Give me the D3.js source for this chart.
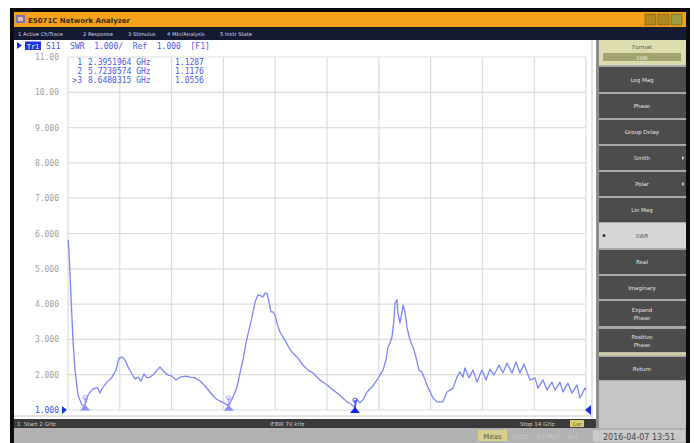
<!DOCTYPE html>
<html>
<head>
<meta charset="utf-8">
<script src="https://cdn.jsdelivr.net/npm/d3@7/dist/d3.min.js"></script>
<style>
  html, body { margin: 0; padding: 0; background: #fff; }
  svg { display: block; }
  text { white-space: pre; }
</style>
</head>
<body>
<svg id="chart" width="695" height="443"></svg>
<script>
// S11 SWR sweep, 2–14 GHz
const freqGHz = [
  2.000, 2.023, 2.069, 2.116, 2.162, 2.232, 2.324, 2.3952, 2.463, 2.556, 2.625, 2.695, 2.741, 2.811, 2.903,
  3.019, 3.112, 3.181, 3.251, 3.320, 3.390, 3.483, 3.552, 3.622, 3.691, 3.761, 3.830, 3.900, 3.992, 4.062,
  4.131, 4.224, 4.316, 4.409, 4.502, 4.594, 4.733, 4.826, 4.942, 5.058, 5.174, 5.289, 5.405, 5.521, 5.614,
  5.7231, 5.822, 5.915, 5.984, 6.054, 6.123, 6.193, 6.262, 6.332, 6.401, 6.471, 6.517, 6.563, 6.610, 6.656,
  6.702, 6.749, 6.795, 6.841, 6.911, 6.980, 7.050, 7.119, 7.212, 7.328, 7.444, 7.559, 7.675, 7.837, 7.999,
  8.139, 8.301, 8.463, 8.556, 8.6480, 8.695, 8.760, 8.840, 8.926, 9.042, 9.158, 9.227, 9.297, 9.366, 9.413,
  9.459, 9.505, 9.552, 9.575, 9.621, 9.644, 9.691, 9.737, 9.760, 9.806, 9.853, 9.922, 9.992, 10.061, 10.131,
  10.200, 10.316, 10.455, 10.548, 10.687, 10.779, 10.918, 11.011, 11.080, 11.150, 11.196, 11.289, 11.382,
  11.474, 11.590, 11.683, 11.775, 11.868, 11.984, 12.077, 12.169, 12.285, 12.378, 12.470, 12.563, 12.702,
  12.818, 12.887, 13.003, 13.096, 13.211, 13.281, 13.397, 13.466, 13.582, 13.675, 13.791, 13.860, 13.976, 14.000
];
const swr = [
  5.82, 5.53, 4.20, 2.98, 2.13, 1.42, 1.14, 1.1287, 1.42, 1.57, 1.62, 1.62, 1.48, 1.65, 1.79,
  1.93, 2.13, 2.47, 2.50, 2.42, 2.22, 2.02, 1.88, 1.93, 1.82, 2.02, 1.91, 1.93, 2.02, 2.13,
  2.22, 2.08, 1.99, 1.96, 1.85, 1.93, 1.96, 1.93, 1.91, 1.82, 1.68, 1.51, 1.34, 1.25, 1.20,
  1.1176, 1.37, 1.65, 2.05, 2.42, 2.90, 3.27, 3.63, 4.06, 4.26, 4.23, 4.20, 4.31, 4.31, 4.06,
  3.78, 3.78, 3.69, 3.46, 3.21, 3.07, 2.93, 2.76, 2.61, 2.47, 2.27, 2.13, 2.05, 1.85, 1.71,
  1.57, 1.42, 1.23, 1.17, 1.0556, 1.30, 1.20, 1.30, 1.51, 1.65, 1.85, 1.99, 2.13, 2.42, 2.78,
  2.90, 3.07, 3.55, 4.03, 4.12, 3.75, 3.46, 3.78, 3.97, 3.78, 3.35, 2.98, 2.78, 2.50, 2.13,
  2.08, 1.71, 1.34, 1.23, 1.23, 1.51, 1.62, 1.93, 2.08, 1.93, 2.19, 1.91, 2.13,
  1.79, 2.13, 1.85, 2.16, 1.99, 2.27, 2.05, 2.33, 2.05, 2.36, 2.05, 2.30, 1.85,
  1.91, 1.62, 1.85, 1.57, 1.79, 1.57, 1.79, 1.51, 1.76, 1.48, 1.71, 1.34, 1.62, 1.57
];

// Marker table
const markerIds = ["1", "2", "3"];
const markerFreq = [2.3951964, 5.7230574, 8.6480315];
const markerSwr = [1.1287, 1.1176, 1.0556];
const activeMarker = 2;

// Axis
const yTickValues = [11, 10, 9, 8, 7, 6, 5, 4, 3, 2, 1];
const yTickLabels = ["11.00", "10.00", "9.000", "8.000", "7.000", "6.000", "5.000", "4.000", "3.000", "2.000", "1.000"];
const startLabel = "1  Start 2 GHz";
const ifbwLabel = "IFBW 70 kHz";
const stopLabel = "Stop 14 GHz";

// Instrument chrome text
const menuItems = ["1 Active Ch/Trace", "2 Response", "3 Stimulus", "4 Mkr/Analysis", "5 Instr State"];
const softkeys = [
  { label: ["Log Mag"] }, { label: ["Phase"] }, { label: ["Group Delay"] },
  { label: ["Smith"], arrow: true }, { label: ["Polar"], arrow: true }, { label: ["Lin Mag"] },
  { label: ["SWR"], selected: true }, { label: ["Real"] }, { label: ["Imaginary"] },
  { label: ["Expand", "Phase"] }, { label: ["Positive", "Phase"] }
];
const softkeyBounds = [[67, 92], [94, 118], [120, 144], [146, 170], [172, 196], [198, 222],
  [223, 248], [250, 274], [276, 299], [301, 326], [329, 352]];

const svg = d3.select("#chart");
const mono = "'DejaVu Sans Mono', 'Liberation Mono', monospace";
const sans = "'DejaVu Sans', 'Liberation Sans', sans-serif";

// Window frame
svg.append("rect").attr("x", 10).attr("y", 8).attr("width", 680).attr("height", 435).attr("fill", "#0b0b0b");
// Title bar
svg.append("rect").attr("x", 14).attr("y", 12).attr("width", 672).attr("height", 15).attr("fill", "#f4a21a");
svg.append("rect").attr("x", 16).attr("y", 15).attr("width", 9).attr("height", 8).attr("fill", "#7a6fb8");
svg.append("rect").attr("x", 18).attr("y", 17).attr("width", 5).attr("height", 4).attr("fill", "#e8c0a0");
svg.append("text").attr("x", 28).attr("y", 22.5).attr("font-family", sans).attr("font-size", 7)
  .attr("font-weight", "bold").attr("fill", "#3a2a10").text("E5071C Network Analyzer");
[645, 658, 671].forEach((bx, i) => {
  svg.append("rect").attr("x", bx).attr("y", 14).attr("width", 11).attr("height", 11)
    .attr("fill", i === 2 ? "#9a9a40" : "#b08a20").attr("stroke", "#6a5a10").attr("stroke-width", 0.6);
});
// Menu bar
svg.append("rect").attr("x", 14).attr("y", 27).attr("width", 672).attr("height", 13).attr("fill", "#151a33");
const menuX = [18, 83, 128, 167, 220];
menuItems.forEach((m, i) => {
  svg.append("text").attr("x", menuX[i]).attr("y", 36).attr("font-family", sans).attr("font-size", 5.2)
    .attr("fill", "#d8dbe8").text(m);
});

// Plot window
svg.append("rect").attr("x", 14).attr("y", 40).attr("width", 582).attr("height", 379).attr("fill", "#ffffff");
svg.append("line").attr("x1", 592).attr("x2", 592).attr("y1", 40).attr("y2", 419).attr("stroke", "#c8c8c8");
svg.append("line").attr("x1", 14).attr("x2", 592).attr("y1", 416).attr("y2", 416).attr("stroke", "#c8c8c8");

// Scales
const x = d3.scaleLinear().domain([2, 14]).range([68, 586]);
const y = d3.scaleLinear().domain([1, 11]).range([410, 57]);

// Graticule
const grid = svg.append("g");
const xDivs = d3.range(0, 11).map(i => 2 + i * 1.2);
grid.selectAll("line.v").data(xDivs).join("line")
  .attr("x1", d => x(d)).attr("x2", d => x(d)).attr("y1", y(11)).attr("y2", y(1))
  .attr("stroke", "#dcdcdc").attr("stroke-width", 1.2);
grid.selectAll("line.h").data(yTickValues).join("line")
  .attr("x1", x(2)).attr("x2", x(14)).attr("y1", d => y(d)).attr("y2", d => y(d))
  .attr("stroke", "#dcdcdc").attr("stroke-width", 1.2);

// Y axis labels
const yAxis = d3.axisLeft(y).tickValues(yTickValues).tickSize(0).tickPadding(0)
  .tickFormat((d, i) => yTickLabels[i]);
const yg = svg.append("g").attr("transform", "translate(59,0)").call(yAxis);
yg.select(".domain").remove();
yg.selectAll("text").attr("font-family", mono).attr("font-size", 8)
  .attr("fill", d => d === 1 ? "#3b4cf0" : "#a0a0a0").attr("dy", "0.32em");

// Reference level arrows
svg.append("path").attr("d", `M${62},${y(1) - 4} L${67},${y(1)} L${62},${y(1) + 4} Z`).attr("fill", "#1a2cf0");
svg.append("path").attr("d", `M${591},${y(1) - 5} L${585},${y(1)} L${591},${y(1) + 5} Z`).attr("fill", "#1a2cf0");

// Channel header
svg.append("path").attr("d", "M17,42 L22,45.5 L17,49 Z").attr("fill", "#1a2cf0");
svg.append("rect").attr("x", 25).attr("y", 41.5).attr("width", 16).attr("height", 8.5).attr("fill", "#1d34e0");
svg.append("text").attr("x", 33).attr("y", 48.5).attr("text-anchor", "middle").attr("font-family", mono)
  .attr("font-size", 7).attr("fill", "#ffffff").text("Tr1");
svg.append("text").attr("x", 46).attr("y", 48.8).attr("font-family", mono).attr("font-size", 8)
  .attr("fill", "#4a58e8").text("S11  SWR  1.000/  Ref  1.000  [F1]");

// Trace
const pts = freqGHz.map((f, i) => [f, swr[i]]);
svg.append("path").datum(pts)
  .attr("d", d3.line().x(d => x(d[0])).y(d => y(d[1])))
  .attr("fill", "none").attr("stroke", "#7d84ff").attr("stroke-width", 1.3).attr("stroke-linejoin", "round");

// Markers
markerFreq.forEach((f, i) => {
  const mx = x(f), my = y(markerSwr[i]);
  const col = i === activeMarker ? "#1626f0" : "#8d92ff";
  const g = svg.append("g");
  g.append("path").attr("d", `M${mx - 5},${my + 5} L${mx},${my - 1} L${mx + 5},${my + 5} Z`).attr("fill", col);
  g.append("line").attr("x1", mx).attr("x2", mx).attr("y1", my - 8).attr("y2", my + 2)
    .attr("stroke", col).attr("stroke-width", 1);
  g.append("circle").attr("cx", mx).attr("cy", my - 8).attr("r", 2).attr("fill", "none")
    .attr("stroke", col).attr("stroke-width", 0.8);
});

// Marker readout
const fmtF = d3.format(".7f"), fmtV = d3.format(".4f");
markerIds.forEach((id, i) => {
  const ty = 65 + i * 9;
  svg.append("text").attr("x", 82).attr("y", ty).attr("text-anchor", "end").attr("font-family", mono)
    .attr("font-size", 8).attr("fill", "#4a58e8").text((i === activeMarker ? ">" : "") + id);
  svg.append("text").attr("x", 88).attr("y", ty).attr("font-family", mono).attr("font-size", 8)
    .attr("fill", "#4a58e8").text(fmtF(markerFreq[i]) + " GHz");
  svg.append("text").attr("x", 175).attr("y", ty).attr("font-family", mono).attr("font-size", 8)
    .attr("fill", "#4a58e8").text(fmtV(markerSwr[i]));
});

// Status bar
svg.append("rect").attr("x", 14).attr("y", 419).attr("width", 582).attr("height", 9).attr("fill", "#3a3a3a");
svg.append("text").attr("x", 17).attr("y", 426).attr("font-family", sans).attr("font-size", 5.5)
  .attr("fill", "#cfcfcf").text(startLabel);
svg.append("text").attr("x", 270).attr("y", 426).attr("font-family", sans).attr("font-size", 5.5)
  .attr("fill", "#cfcfcf").text(ifbwLabel);
svg.append("text").attr("x", 520).attr("y", 426).attr("font-family", sans).attr("font-size", 5.5)
  .attr("fill", "#cfcfcf").text(stopLabel);
svg.append("rect").attr("x", 570).attr("y", 420).attr("width", 14).attr("height", 7).attr("fill", "#d8d070");
svg.append("text").attr("x", 577).attr("y", 426).attr("text-anchor", "middle").attr("font-family", sans)
  .attr("font-size", 5).attr("fill", "#333").text("Cor");

// Bottom instrument bar
svg.append("rect").attr("x", 14).attr("y", 428).attr("width", 672).attr("height", 15).attr("fill", "#b2b2b2");
svg.append("rect").attr("x", 478).attr("y", 430).attr("width", 29).attr("height", 11).attr("fill", "#d8d08a");
svg.append("text").attr("x", 492.5).attr("y", 438.5).attr("text-anchor", "middle").attr("font-family", sans)
  .attr("font-size", 7).attr("fill", "#555").text("Meas");
[["Stop", 520], ["ExtRef", 548], ["Svc", 573]].forEach(([t, tx]) => {
  svg.append("text").attr("x", tx).attr("y", 438.5).attr("text-anchor", "middle").attr("font-family", sans)
    .attr("font-size", 7).attr("fill", "#c8c8c8").text(t);
});
svg.append("rect").attr("x", 593).attr("y", 430).attr("width", 92).attr("height", 12).attr("fill", "#c9c9c9");
svg.append("text").attr("x", 639).attr("y", 439.5).attr("text-anchor", "middle").attr("font-family", sans)
  .attr("font-size", 8).attr("fill", "#444").text("2016-04-07 13:51");

// Softkey panel
svg.append("rect").attr("x", 596).attr("y", 40).attr("width", 90).attr("height", 388).attr("fill", "#a9a9a9");
svg.append("rect").attr("x", 596).attr("y", 40).attr("width", 3).attr("height", 388).attr("fill", "#8c8c8c");
svg.append("rect").attr("x", 599).attr("y", 40).attr("width", 87).attr("height", 25).attr("fill", "#dcdcae");
svg.append("text").attr("x", 642).attr("y", 49).attr("text-anchor", "middle").attr("font-family", sans)
  .attr("font-size", 5.5).attr("fill", "#555").text("Format");
svg.append("rect").attr("x", 603).attr("y", 53).attr("width", 78).attr("height", 8).attr("fill", "#a3a370");
svg.append("text").attr("x", 642).attr("y", 59.5).attr("text-anchor", "middle").attr("font-family", sans)
  .attr("font-size", 5).attr("fill", "#eeeed0").text("SWR");

softkeys.forEach((k, i) => {
  const [y0, y1] = softkeyBounds[i];
  svg.append("rect").attr("x", 599).attr("y", y0).attr("width", 87).attr("height", y1 - y0)
    .attr("fill", k.selected ? "#d6d6d6" : "#4c4c4c");
  const cy = (y0 + y1) / 2;
  const lines = k.label;
  lines.forEach((t, j) => {
    svg.append("text").attr("x", 642).attr("y", cy + 2 + (j - (lines.length - 1) / 2) * 8)
      .attr("text-anchor", "middle").attr("font-family", sans).attr("font-size", 5.5)
      .attr("fill", k.selected ? "#555" : "#e6e6e6").text(t);
  });
  if (k.arrow) {
    svg.append("path").attr("d", `M682,${cy - 2} L684.5,${cy} L682,${cy + 2} Z`).attr("fill", "#cfcfcf");
  }
  if (k.selected) {
    svg.append("circle").attr("cx", 604).attr("cy", cy).attr("r", 1.5).attr("fill", "#333");
  }
});
svg.append("rect").attr("x", 599).attr("y", 352.5).attr("width", 87).attr("height", 3).attr("fill", "#d0d0a0");
svg.append("rect").attr("x", 599).attr("y", 357).attr("width", 87).attr("height", 23).attr("fill", "#4c4c4c");
svg.append("text").attr("x", 642).attr("y", 370.5).attr("text-anchor", "middle").attr("font-family", sans)
  .attr("font-size", 5.5).attr("fill", "#e6e6e6").text("Return");
svg.append("rect").attr("x", 599).attr("y", 381).attr("width", 87).attr("height", 47).attr("fill", "#c4c4c4");
</script>
</body>
</html>
